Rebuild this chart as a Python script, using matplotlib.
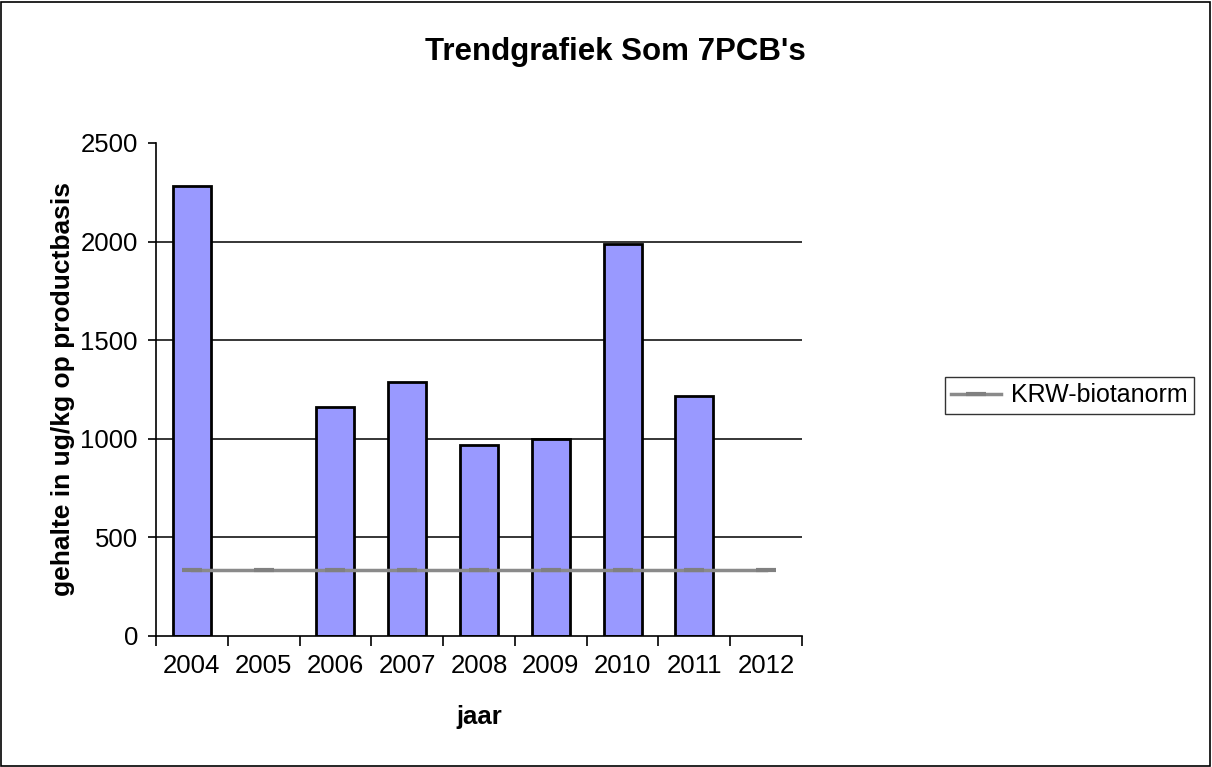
import matplotlib
matplotlib.use("Agg")
import matplotlib.pyplot as plt
import numpy as np
from matplotlib.patches import Rectangle

years = ["2004", "2005", "2006", "2007", "2008", "2009", "2010", "2011", "2012"]
pcb_values = [2280, np.nan, 1162, 1288, 969, 1000, 1988, 1215, np.nan]
krw_norm = [335, 335, 335, 335, 335, 335, 335, 335, 335]
yticks = [0, 500, 1000, 1500, 2000, 2500]

plt.rcParams['font.family'] = ['Liberation Sans', 'DejaVu Sans']

fig = plt.figure(figsize=(12.12, 7.67), dpi=100)
fig.patch.set_facecolor("white")
fig.add_artist(Rectangle((0.001, 0.001), 0.997, 0.997, transform=fig.transFigure,
                         fill=False, edgecolor="black", linewidth=1.2))

ax = fig.add_axes([0.1287, 0.1708, 0.6617 - 0.1287, 0.8136 - 0.1708])
x = np.arange(len(years))
ax.bar(x, pcb_values, width=0.53, color="#9999FF", edgecolor="black", linewidth=2, zorder=2)
line, = ax.plot(x, krw_norm, color="#8a8a8a", linewidth=2.5, marker="_", markersize=14,
                markeredgewidth=3, markeredgecolor="#808080", zorder=3, label="KRW-biotanorm")

ax.set_xlim(-0.5, len(years) - 0.5)
ax.set_ylim(0, 2500)
ax.set_yticks(yticks)
ax.set_yticklabels([str(t) for t in yticks], fontsize=18.5)
for yv in yticks[1:-1]:
    ax.axhline(yv, color="black", linewidth=1.1, zorder=1)

ax.set_xticks(x)
ax.set_xticklabels(years, fontsize=18.5)
ax.set_xticks(np.arange(-0.5, len(years), 1), minor=True)
ax.tick_params(axis="x", which="major", length=0, pad=13)
ax.tick_params(axis="x", which="minor", length=7, width=1.2, direction="out")
ax.tick_params(axis="y", length=6, width=1.2, direction="out", pad=7)

for s in ["top", "right"]:
    ax.spines[s].set_visible(False)
for s in ["left", "bottom"]:
    ax.spines[s].set_linewidth(1.2)

ax.set_xlabel("jaar", fontsize=18.5, fontweight="bold")
ax.xaxis.set_label_coords(0.5, -(705 - 636) / 493, transform=ax.transAxes)
ax.set_ylabel("gehalte in ug/kg op productbasis", fontsize=19, fontweight="bold")
ax.yaxis.set_label_coords(-(156 - 75) / 646, 0.5, transform=ax.transAxes)

fig.text(615 / 1212, 1 - 52 / 767, "Trendgrafiek Som 7PCB's", ha="center", va="center",
         fontsize=22.5, fontweight="bold")

leg = fig.legend(handles=[line], loc="upper left", bbox_to_anchor=(945 / 1212, 1 - 377 / 767),
                 fontsize=18, frameon=True, fancybox=False, edgecolor="black",
                 handlelength=2.0, borderpad=0.25, handletextpad=0.4, borderaxespad=0)
leg.get_frame().set_linewidth(1.0)

fig.savefig("out.png", dpi=100)
